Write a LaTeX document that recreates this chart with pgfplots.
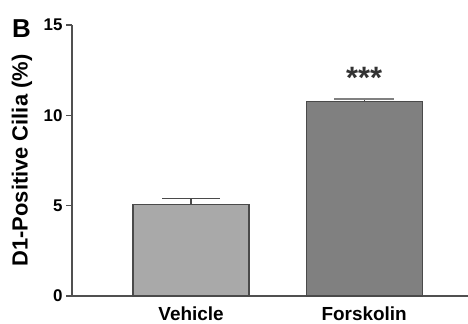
\documentclass[border=0pt]{standalone}
\usepackage{pgfplots}
\pgfplotsset{compat=1.18}
\usepackage{fontspec}
\setmainfont{Liberation Sans}
\definecolor{vehc}{HTML}{A9A9A9}
\definecolor{forc}{HTML}{808080}
\definecolor{edgec}{HTML}{4A4A4A}
\definecolor{axc}{HTML}{505050}
\begin{document}
\begin{tikzpicture}[x=1bp,y=1bp]
\begin{axis}[
  at={(72bp,27bp)}, anchor=south west,
  scale only axis, width=396bp, height=271bp,
  xmin=-0.688, xmax=1.6, ymin=0, ymax=15,
  axis x line=bottom, axis y line=left,
  axis line style={axc, line width=1.2bp, -},
  xtick={0,1}, xticklabels={Vehicle,Forskolin},
  x tick style={draw=none},
  ytick={0,5,10,15}, yticklabels={0,5,10,15},
  y tick style={axc, line width=1.2bp},
  tick align=outside, major tick length=6bp,
  yticklabel style={font=\fontsize{17}{19}\selectfont\bfseries, xshift=0bp},
  xticklabel style={font=\fontsize{19}{22}\selectfont\bfseries, yshift=-1bp},
  ylabel={D1-Positive Cilia (\%)},
  every axis y label/.style={at={(rel axis cs:0,0.5)}, xshift=-50bp, rotate=90, anchor=center,
    font=\fontsize{22}{24}\selectfont\bfseries},
  bar width=116bp,
  clip=false,
]
\addplot[ybar, fill=vehc, draw=edgec, line width=1.2bp,
  error bars/.cd, y dir=plus, y explicit,
  error bar style={edgec, line width=1.2bp},
  error mark options={rotate=90, mark size=29bp, edgec, line width=1.2bp}]
  coordinates {(0,5.06) +- (0,0.32)};
\addplot[ybar, fill=forc, draw=edgec, line width=1.2bp,
  error bars/.cd, y dir=plus, y explicit,
  error bar style={edgec, line width=1.2bp},
  error mark options={rotate=90, mark size=30bp, edgec!70, line width=1.2bp}]
  coordinates {(1,10.77) +- (0,0.13)};
\node[font=\fontsize{31}{34}\selectfont\bfseries, anchor=center, text=black!80] at (axis cs:1,12.05) {***};
\end{axis}
\node[font=\fontsize{26}{28}\selectfont\bfseries, anchor=north west, inner sep=0pt] at (12bp,304bp) {B};
\pgfresetboundingbox
\path (0,0) rectangle (468,323);
\end{tikzpicture}
\end{document}
